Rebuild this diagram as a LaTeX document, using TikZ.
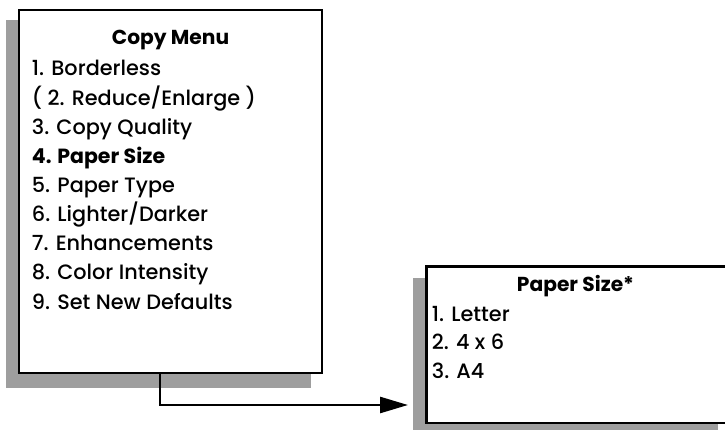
\documentclass[tikz,border=0pt]{standalone}
\usepackage{fontspec}
\setmainfont{Poppins}[UprightFont={* Medium},BoldFont={* Bold}]
\usetikzlibrary{arrows.meta}
\definecolor{shadowgray}{RGB}{158,158,158}
\begin{document}
\begin{tikzpicture}[x=1pt,y=-1pt,
  frame/.style={draw=black,line width=2.8pt,fill=white,inner sep=0pt},
  shade/.style={fill=shadowgray,draw=none},
  item/.style={anchor=base west,inner sep=0pt,font=\fontsize{20.8}{24}\selectfont},
  head/.style={anchor=base,inner sep=0pt,font=\fontsize{20.2}{24}\selectfont\bfseries},
  conn/.style={draw=black,line width=2.5pt,-{Triangle[length=28pt,width=16pt]}}]
\useasboundingbox (0,0) rectangle (725,430);
% shadows
\fill[shade] (6,20) rectangle (311,388);
\fill[shade] (412.7,278) rectangle (718,432);
% boxes
\node[frame,minimum width=303pt,minimum height=363pt] (box1) at (170.5,191.5) {};
\node[frame,minimum width=304pt,minimum height=156.3pt] (box2) at (578.7,344.85) {};
% box 1 text
\node[head] (t1) at (170.5,45) {Copy Menu};
\node[item] (a1) at (31.7,76) {1. Borderless};
\node[item] (a2) at (31.7,105.1) {( 2. Reduce/Enlarge )};
\node[item] (a3) at (31.7,134.2) {3. Copy Quality};
\node[item,font=\fontsize{20.5}{24}\selectfont\bfseries] (a4) at (31.7,163.3) {4. Paper Size};
\node[item] (a5) at (31.7,192.4) {5. Paper Type};
\node[item] (a6) at (31.7,221.5) {6. Lighter/Darker};
\node[item] (a7) at (31.7,250.6) {7. Enhancements};
\node[item] (a8) at (31.7,279.7) {8. Color Intensity};
\node[item] (a9) at (31.7,309) {9. Set New Defaults};
% box 2 text
\node[head] (t2) at (575.5,291) {Paper Size*};
\node[item] (b1) at (431.7,321) {1. Letter};
\node[item] (b2) at (431.7,349.5) {2. 4 x 6};
\node[item] (b3) at (431.7,378) {3. A4};
% connector
\coordinate (drop) at (160,373);
\coordinate (tip) at (408,405);
\draw[conn] (drop) |- (tip);
\end{tikzpicture}
\end{document}
